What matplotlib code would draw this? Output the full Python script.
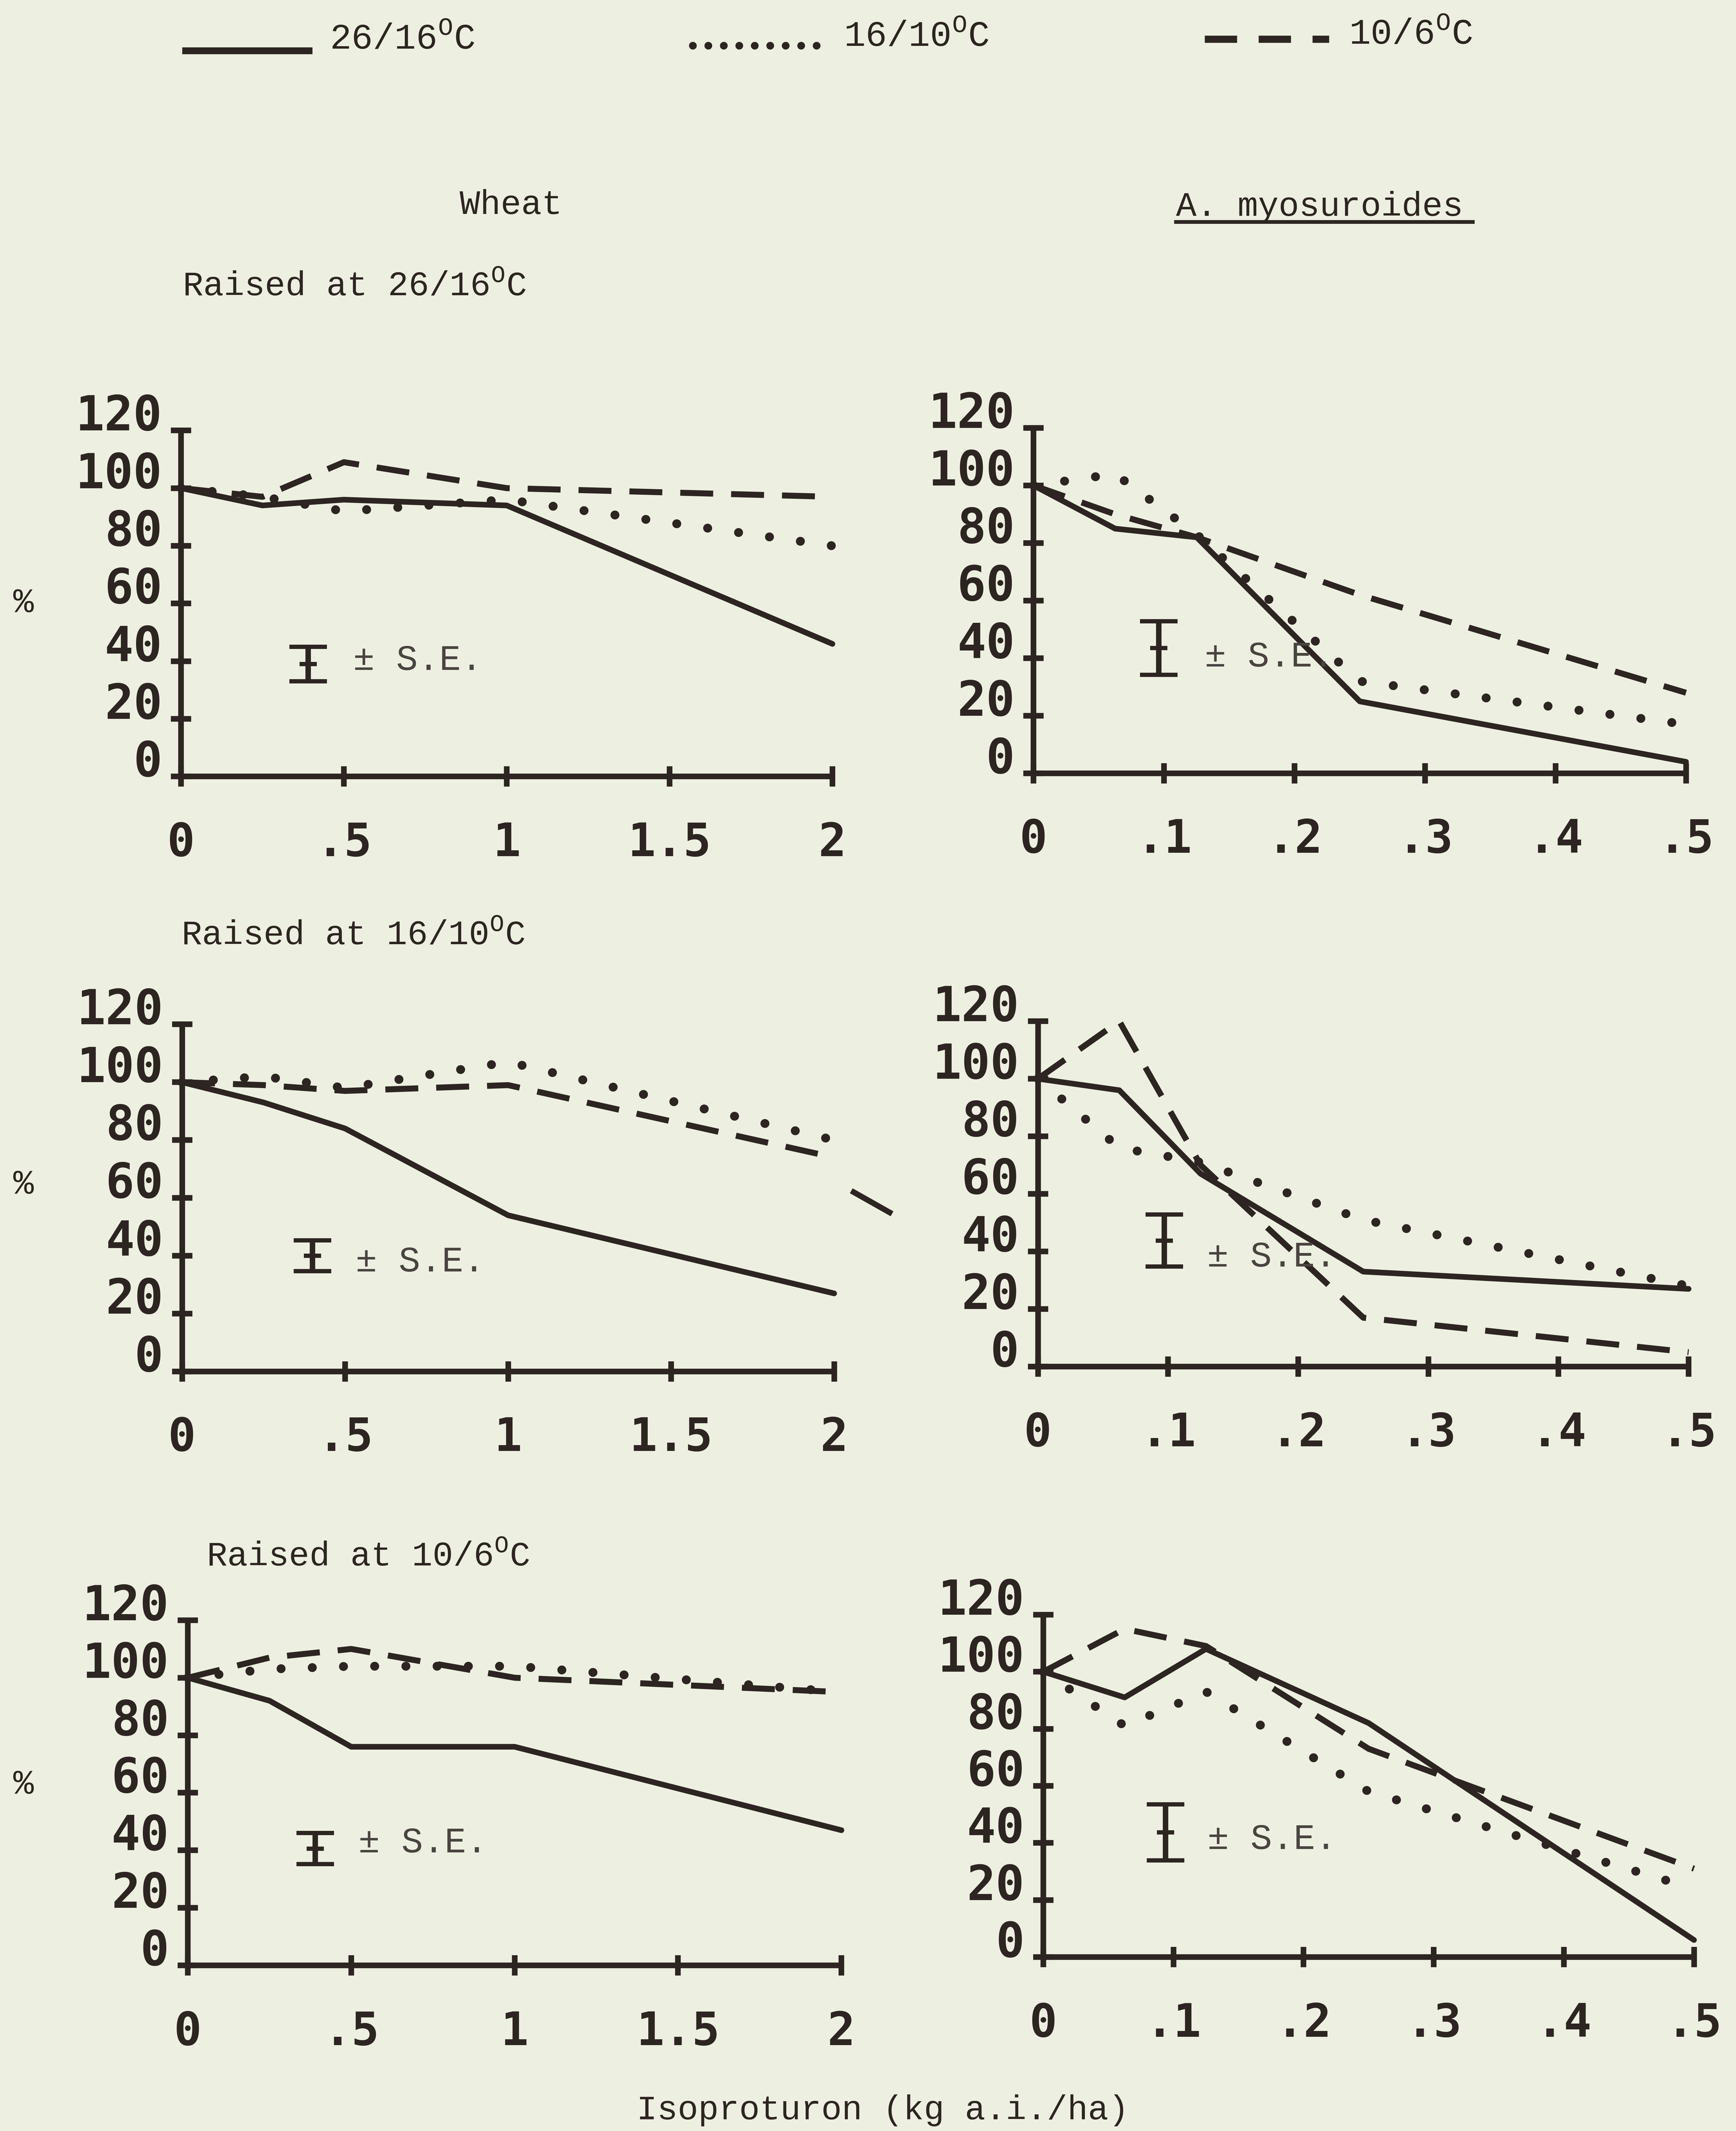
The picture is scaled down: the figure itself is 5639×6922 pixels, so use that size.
import matplotlib
matplotlib.use('Agg')
import matplotlib.pyplot as plt
from matplotlib.lines import Line2D

plt.rcParams['font.family'] = ['Liberation Mono', 'DejaVu Sans Mono']
plt.rcParams['mathtext.fontset'] = 'custom'
plt.rcParams['mathtext.rm'] = 'Liberation Mono'

paper = '#edf0e1'
ink = '#2d2521'
ink_light = '#4a4440'

# doses (kg a.i./ha)
wheat_dose = [0, 0.25, 0.5, 1, 2]
grass_dose = [0, 0.0625, 0.125, 0.25, 0.5]

wheat_ticks = [0, 0.5, 1, 1.5, 2]
wheat_tick_labels = ['0', '.5', '1', '1.5', '2']
grass_ticks = [0, 0.1, 0.2, 0.3, 0.4, 0.5]
grass_tick_labels = ['0', '.1', '.2', '.3', '.4', '.5']
pct_ticks = [0, 20, 40, 60, 80, 100, 120]
pct_labels = ['0', '20', '40', '60', '80', '100', '120']

# % of control, series = 26/16, 16/10, 10/6 C treatment temperatures
# raised at 26/16 C
wheat_r1_hot = [100, 94, 96, 94, 46]
wheat_r1_mid = [100, 97, 92, 96, 80]
wheat_r1_cold = [100, 97, 109, 100, 97]
grass_r1_hot = [100, 85, 82, 25, 4]
grass_r1_mid = [100, 104, 83, 32, 17]
grass_r1_cold = [100, 90, 82, 62, 28]

# raised at 16/10 C
wheat_r2_hot = [100, 93, 84, 54, 27]
wheat_r2_mid = [100, 102, 98, 107, 80]
wheat_r2_cold = [100, 99, 97, 99, 74]
grass_r2_hot = [100, 96, 67, 33, 27]
grass_r2_mid = [100, 76, 71, 51, 28]
grass_r2_cold = [100, 120, 70, 17, 5]

# raised at 10/6 C
wheat_r3_hot = [100, 92, 76, 76, 47]
wheat_r3_mid = [100, 103, 104, 104, 95]
wheat_r3_cold = [100, 107, 110, 100, 95]
grass_r3_hot = [100, 91, 108, 82, 6]
grass_r3_mid = [100, 81, 93, 58, 24]
grass_r3_cold = [100, 115, 109, 73, 31]

# standard error bars (x position, centre, half height)
se_x = [0.39, 0.096, 0.40, 0.097, 0.39, 0.094]
se_mid = [39, 43.5, 40, 43.8, 40.6, 43.7]
se_half = [6, 9.3, 5.3, 9, 5.4, 9.8]

# stray dash next to the middle wheat panel
stray_x = [2.06, 2.17]
stray_y = [62, 55]

fig = plt.figure(figsize=(5639 / 400, 6922 / 400), dpi=400, facecolor=paper)

solid_kw = dict(color=ink, lw=3.3, linestyle='-', solid_joinstyle='round', solid_capstyle='round')
dot_kw = dict(color=ink, lw=5.2, linestyle=(0, (0.01, 3.5)), dash_capstyle='round')
dash_kw = dict(color=ink, lw=3.5, linestyle=(0, (5.5, 3.0)), dash_capstyle='butt')


def draw_panel(rect, x, hot, mid, cold, ticks, tick_labels, xmax, i, se_text_xy):
    ax = fig.add_axes(rect)
    ax.set_facecolor('none')
    ax.plot(x, cold, clip_on=False, **dash_kw)
    ax.plot(x, mid, clip_on=False, **dot_kw)
    ax.plot(x, hot, clip_on=False, **solid_kw)

    ax.errorbar([se_x[i]], [se_mid[i]], yerr=[se_half[i]], fmt='_', ms=10, mew=2.5,
                color=ink, elinewidth=3.2, capsize=11, capthick=3.6)
    ax.text(se_text_xy[0], se_text_xy[1], '\u00b1 S.E.', transform=ax.transAxes,
            fontsize=21, color=ink_light, va='baseline', ha='left')

    ax.set_xlim(0, xmax)
    ax.set_ylim(0, 120)
    for s in ['top', 'right']:
        ax.spines[s].set_visible(False)
    for s in ['left', 'bottom']:
        ax.spines[s].set_linewidth(3.3)
        ax.spines[s].set_color(ink)
        ax.spines[s].set_capstyle('round')

    ax.set_xticks(ticks, labels=tick_labels)
    ax.set_yticks(pct_ticks, labels=pct_labels)
    ax.tick_params(axis='both', direction='inout', length=12, width=3.3, color=ink)
    ax.tick_params(axis='x', pad=20, labelsize=27)
    ax.tick_params(axis='y', pad=5, labelsize=28)
    for lab in ax.get_xticklabels() + ax.get_yticklabels():
        lab.set_fontfamily('DejaVu Sans Mono')
        lab.set_fontweight('bold')
        lab.set_color(ink)
    plt.setp(ax.get_yticklabels(), va='baseline')
    return ax


ax1 = draw_panel([0.1043, 0.6356, 0.3752, 0.1624], wheat_dose, wheat_r1_hot, wheat_r1_mid,
                 wheat_r1_cold, wheat_ticks, wheat_tick_labels, 2, 0, (0.264, 0.308))
ax2 = draw_panel([0.5954, 0.6371, 0.3758, 0.1621], grass_dose, grass_r1_hot, grass_r1_mid,
                 grass_r1_cold, grass_ticks, grass_tick_labels, 0.5, 1, (0.262, 0.309))
ax3 = draw_panel([0.1049, 0.3564, 0.3756, 0.1629], wheat_dose, wheat_r2_hot, wheat_r2_mid,
                 wheat_r2_cold, wheat_ticks, wheat_tick_labels, 2, 2, (0.266, 0.288))
ax4 = draw_panel([0.5979, 0.3587, 0.3748, 0.1621], grass_dose, grass_r2_hot, grass_r2_mid,
                 grass_r2_cold, grass_ticks, grass_tick_labels, 0.5, 3, (0.26, 0.29))
ax5 = draw_panel([0.1082, 0.0777, 0.3765, 0.1620], wheat_dose, wheat_r3_hot, wheat_r3_mid,
                 wheat_r3_cold, wheat_ticks, wheat_tick_labels, 2, 4, (0.261, 0.327))
ax6 = draw_panel([0.6010, 0.0816, 0.3748, 0.1607], grass_dose, grass_r3_hot, grass_r3_mid,
                 grass_r3_cold, grass_ticks, grass_tick_labels, 0.5, 5, (0.252, 0.316))

ax3.plot(stray_x, stray_y, color=ink, lw=3.3, clip_on=False)

# legend along the top
fig.add_artist(Line2D([0.105, 0.180], [0.9762, 0.9762], color=ink, lw=4, solid_capstyle='butt'))
fig.text(0.190, 0.977, '26/16$^{\\rm O}$C', fontsize=21, color=ink, va='baseline')
fig.add_artist(Line2D([0.399, 0.473], [0.9786, 0.9786], color=ink, lw=4.5,
                      linestyle=(0, (0.01, 2.0)), dash_capstyle='round'))
fig.text(0.486, 0.9783, '16/10$^{\\rm O}$C', fontsize=21, color=ink, va='baseline')
fig.add_artist(Line2D([0.694, 0.7655], [0.9816, 0.9816], color=ink, lw=4.2,
                      linestyle=(0, (4.5, 3.0)), dash_capstyle='butt'))
fig.text(0.777, 0.9793, '10/6$^{\\rm O}$C', fontsize=21, color=ink, va='baseline')

# column and row headings
fig.text(0.2648, 0.8996, 'Wheat', fontsize=20, color=ink, va='baseline')
fig.text(0.6774, 0.8987, 'A. myosuroides', fontsize=20, color=ink, va='baseline')
fig.add_artist(Line2D([0.6774, 0.8484], [0.8959, 0.8959], color=ink, lw=2.2))
fig.text(0.1052, 0.8613, 'Raised at 26/16$^{\\rm O}$C', fontsize=20, color=ink, va='baseline')
fig.text(0.1045, 0.5568, 'Raised at 16/10$^{\\rm O}$C', fontsize=20, color=ink, va='baseline')
fig.text(0.1190, 0.2652, 'Raised at 10/6$^{\\rm O}$C', fontsize=20, color=ink, va='baseline')

for yy in [0.717, 0.4441, 0.1625]:
    fig.text(0.0135, yy, '%', fontsize=20, color=ink, ha='center', va='center')

fig.text(0.3667, 0.0055, 'Isoproturon (kg a.i./ha)', fontsize=20, color=ink, va='baseline')

fig.savefig('out.png', dpi=400, facecolor=paper)
